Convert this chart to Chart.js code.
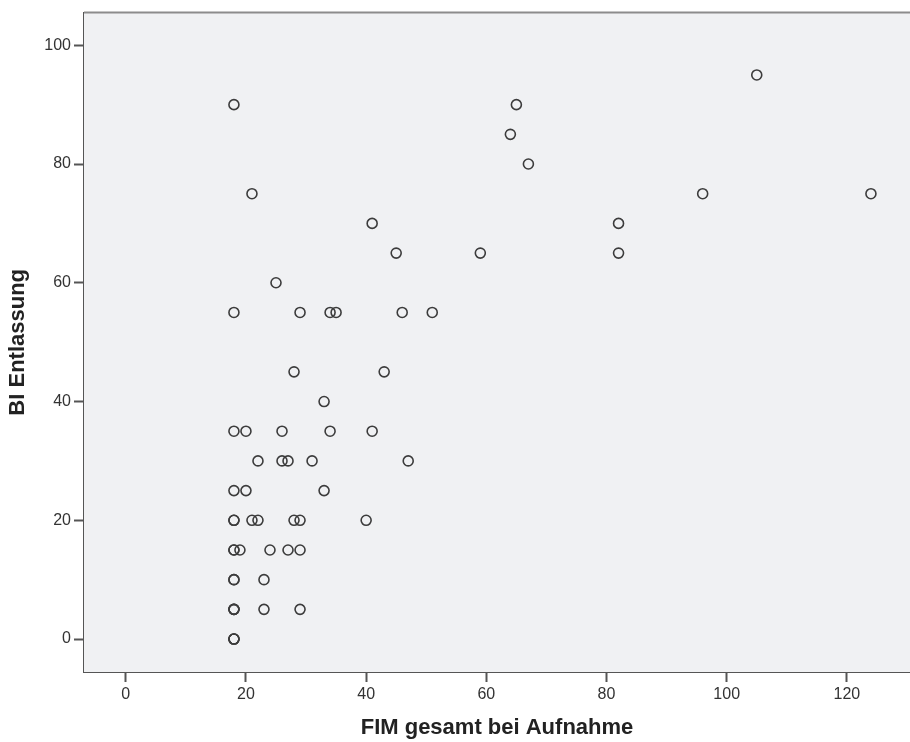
<!DOCTYPE html>
<html lang="de">
<head>
<meta charset="utf-8">
<title>FIM / BI Streudiagramm</title>
<script src="https://cdn.jsdelivr.net/npm/chart.js@4.4.1/dist/chart.umd.min.js"></script>
<style>
  html, body { margin: 0; padding: 0; background: #fff; }
  .chartWrapper { width: 910px; height: 742px; position: relative; }
</style>
</head>
<body>
<div class="chartWrapper">
  <canvas id="scatterChart"></canvas>
</div>
<script>
// FIM gesamt bei Aufnahme (x) / BI Entlassung (y), ein Paar pro Patient
const fimAdmission = [
  18, 18, 18,
  18, 18, 18, 23, 29,
  18, 18, 23,
  18, 18, 19, 24, 27, 29,
  18, 18, 21, 22, 28, 29, 40,
  18, 20, 33,
  22, 26, 27, 31, 47,
  18, 20, 26, 34, 41,
  33,
  28, 43,
  18, 29, 34, 35, 46, 51,
  25,
  45, 59, 82,
  41, 82,
  21, 96, 124,
  67,
  64,
  18, 65,
  105,
];
const biDischarge = [
  0, 0, 0,
  5, 5, 5, 5, 5,
  10, 10, 10,
  15, 15, 15, 15, 15, 15,
  20, 20, 20, 20, 20, 20, 20,
  25, 25, 25,
  30, 30, 30, 30, 30,
  35, 35, 35, 35, 35,
  40,
  45, 45,
  55, 55, 55, 55, 55, 55,
  60,
  65, 65, 65,
  70, 70,
  75, 75, 75,
  80,
  85,
  90, 90,
  95,
];

const xTicks = [0, 20, 40, 60, 80, 100, 120];
const yTicks = [0, 20, 40, 60, 80, 100];

const points = fimAdmission.map((x, i) => ({ x: x, y: biDischarge[i] }));

// Hintergrund der Zeichenfläche + obere Rahmenlinie
const plotFrame = {
  id: 'plotFrame',
  beforeDatasetsDraw(chart) {
    const { ctx, chartArea } = chart;
    ctx.save();
    ctx.fillStyle = '#f0f1f3';
    ctx.fillRect(chartArea.left, chartArea.top, chartArea.right - chartArea.left, chartArea.bottom - chartArea.top);
    ctx.strokeStyle = '#8c8c8c';
    ctx.lineWidth = 2;
    ctx.beginPath();
    ctx.moveTo(chartArea.left, chartArea.top);
    ctx.lineTo(chartArea.right, chartArea.top);
    ctx.stroke();
    ctx.restore();
  },
};

const tickFont = { family: '"Liberation Sans", Arial, sans-serif', size: 16 };
const titleFont = { family: '"Liberation Sans", Arial, sans-serif', size: 22, weight: 'bold' };

const config = {
  type: 'scatter',
  data: {
    datasets: [
      {
        data: points,
        pointStyle: 'circle',
        pointRadius: 5,
        pointHoverRadius: 5,
        pointBorderWidth: 1.6,
        pointBorderColor: '#3c3c3c',
        pointBackgroundColor: 'rgba(0,0,0,0)',
      },
    ],
  },
  options: {
    responsive: true,
    maintainAspectRatio: false,
    animation: false,
    layout: { autoPadding: false, padding: { top: 11, right: 0, left: 0, bottom: 0 } },
    plugins: {
      legend: { display: false },
      tooltip: { enabled: false },
    },
    scales: {
      x: {
        type: 'linear',
        min: -6.95,
        max: 130.5,
        afterBuildTicks: (scale) => {
          scale.ticks = xTicks.map((v) => ({ value: v }));
        },
        afterFit: (scale) => {
          scale.height = 70;
        },
        grid: {
          drawOnChartArea: false,
          drawTicks: true,
          tickLength: 10,
          tickWidth: 2,
          tickColor: '#555',
        },
        border: { display: true, color: '#555', width: 2 },
        ticks: { font: tickFont, color: '#333', padding: 3, maxRotation: 0 },
        title: {
          display: true,
          text: 'FIM gesamt bei Aufnahme',
          font: titleFont,
          color: '#222',
          padding: { top: 0, bottom: 1 },
        },
      },
      y: {
        type: 'linear',
        min: -5.55,
        max: 105.5,
        afterBuildTicks: (scale) => {
          scale.ticks = yTicks.map((v) => ({ value: v }));
        },
        afterFit: (scale) => {
          scale.width = 84;
        },
        grid: {
          drawOnChartArea: false,
          drawTicks: true,
          tickLength: 10,
          tickWidth: 2,
          tickColor: '#555',
        },
        border: { display: true, color: '#555', width: 2 },
        ticks: { font: tickFont, color: '#333', padding: 3 },
        title: {
          display: true,
          text: 'BI Entlassung',
          font: titleFont,
          color: '#222',
          padding: { top: 5, bottom: 0 },
        },
      },
    },
  },
  plugins: [plotFrame],
};

new Chart(document.getElementById('scatterChart'), config);
</script>
</body>
</html>
